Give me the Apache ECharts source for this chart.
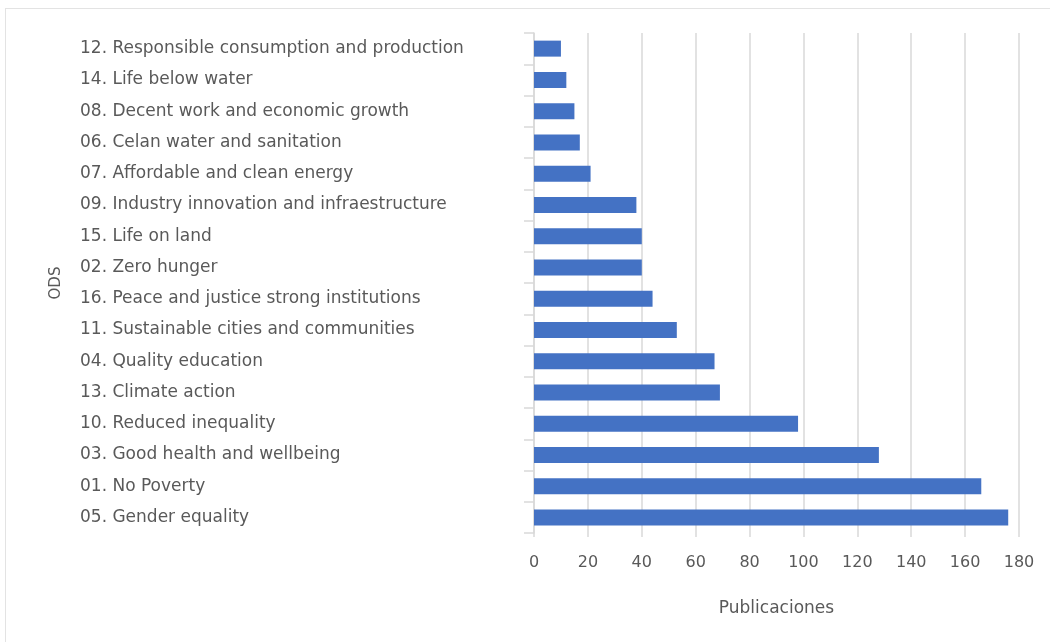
<!DOCTYPE html>
<html>
<head>
<meta charset="utf-8">
<script src="https://cdn.jsdelivr.net/npm/echarts@6/dist/echarts.min.js"></script>
<style>
  html, body { margin: 0; padding: 0; background: #ffffff; }
  #frame { position: absolute; left: 5px; top: 8px; width: 1100px; height: 700px; border: 1px solid #e3e3e3; box-sizing: border-box; }
  #chart { position: absolute; left: 0; top: 0; width: 1050px; height: 642px; }
</style>
</head>
<body>
<div id="frame"></div>
<div id="chart"></div>
<script>
// Sustainable Development Goals, listed top to bottom
const categories = [
  "12. Responsible consumption and production",
  "14. Life below water",
  "08. Decent work and economic growth",
  "06. Celan water and sanitation",
  "07. Affordable and clean energy",
  "09. Industry innovation and infraestructure",
  "15. Life on land",
  "02. Zero hunger",
  "16. Peace and justice strong institutions",
  "11. Sustainable cities and communities",
  "04. Quality education",
  "13. Climate action",
  "10. Reduced inequality",
  "03. Good health and wellbeing",
  "01. No Poverty",
  "05. Gender equality"
];
// Number of publications per goal
const publications = [10, 12, 15, 17, 21, 38, 40, 40, 44, 53, 67, 69, 98, 128, 166, 176];
const xTicks = { min: 0, max: 180, interval: 20 };

const textColor = "#595959";
const lineColor = "#d9d9d9";
const fontFamily = "'DejaVu Sans', sans-serif";

const chart = echarts.init(document.getElementById("chart"), null, { renderer: "canvas" });
chart.setOption({
  animation: false,
  backgroundColor: "transparent",
  grid: { left: 534, right: 31, top: 33, bottom: 109, containLabel: false },
  xAxis: {
    type: "value",
    min: xTicks.min,
    max: xTicks.max,
    interval: xTicks.interval,
    name: "Publicaciones",
    nameLocation: "middle",
    nameGap: 67,
    nameTextStyle: { color: textColor, fontSize: 17, fontFamily: fontFamily },
    axisLine: { show: false },
    axisTick: { show: true, length: 4, lineStyle: { color: lineColor, width: 1.5 } },
    axisLabel: { color: textColor, fontSize: 16, fontFamily: fontFamily, margin: 22 },
    splitLine: { show: true, lineStyle: { color: lineColor, width: 1.5 } }
  },
  yAxis: {
    type: "category",
    data: categories,
    inverse: true,
    name: "ODS",
    nameLocation: "middle",
    nameGap: 470,
    nameRotate: 90,
    nameTextStyle: { color: textColor, fontSize: 15, fontFamily: fontFamily },
    axisLine: { show: true, lineStyle: { color: lineColor, width: 1.5 } },
    axisTick: { show: true, length: 10, lineStyle: { color: lineColor, width: 1.5 } },
    axisLabel: { color: textColor, fontSize: 17, fontFamily: fontFamily, align: "left", margin: 454 }
  },
  series: [{
    type: "bar",
    data: publications,
    barWidth: 16,
    itemStyle: { color: "#4472C4" }
  }]
});
</script>
</body>
</html>
